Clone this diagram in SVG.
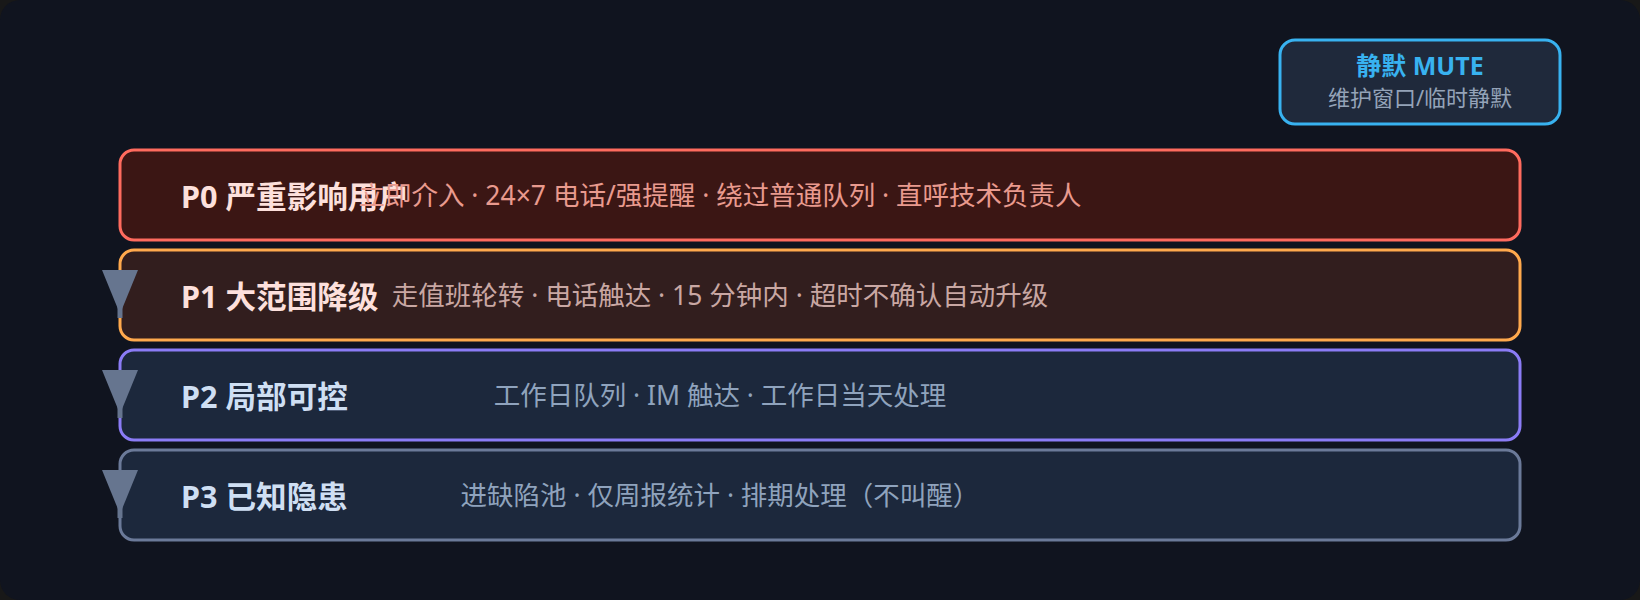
<svg xmlns="http://www.w3.org/2000/svg" width="1640" height="600" viewBox="0 0 1640 600">
<style>
.t{font-family:"Noto Sans","Noto Sans CJK SC",sans-serif;font-weight:700;font-size:30.6px}
.s{font-family:"Noto Sans","Noto Sans CJK SC",sans-serif;font-weight:400;font-size:26.5px;text-anchor:middle}
.box{stroke-width:3}
.arr{fill:#66758f}
.stub{stroke:#66758f;stroke-width:5}
</style>
<rect x="0" y="0" width="1640" height="600" fill="#181818"/>
<rect x="0" y="0" width="1640" height="600" rx="20" fill="#10141f"/>
<g id="mute">
<rect x="1280" y="40" width="280" height="84" rx="15" fill="#1f293b" stroke="#38b2f0" stroke-width="3"/>
<text x="1420" y="75" font-family="'Noto Sans','Noto Sans CJK SC',sans-serif" font-weight="700" font-size="25" fill="#38b2f0" text-anchor="middle">静默 MUTE</text>
<text x="1420" y="106" font-family="'Noto Sans','Noto Sans CJK SC',sans-serif" font-size="22" fill="#94a3b8" text-anchor="middle">维护窗口/临时静默</text>
</g>
<g id="p0">
<rect class="box" x="120" y="150" width="1400" height="90" rx="14" fill="#3b1614" stroke="#ff6b5e"/>
<text class="t" x="181" y="208" fill="#fde0dc">P0 严重影响用户</text>
<text class="s" x="720" y="205" fill="#e99a8e">立即介入 · 24×7 电话/强提醒 · 绕过普通队列 · 直呼技术负责人</text>
</g>
<g id="p1">
<rect class="box" x="120" y="250" width="1400" height="90" rx="14" fill="#321e1e" stroke="#ffa94d"/>
<text class="t" x="181" y="308" fill="#fde0dc">P1 大范围降级</text>
<text class="s" x="720" y="305" fill="#c9a7a3">走值班轮转 · 电话触达 · 15 分钟内 · 超时不确认自动升级</text>
</g>
<g id="p2">
<rect class="box" x="120" y="350" width="1400" height="90" rx="14" fill="#1c283c" stroke="#8b7cf6"/>
<text class="t" x="181" y="408" fill="#cfdff3">P2 局部可控</text>
<text class="s" x="720" y="405" fill="#8fa3bd">工作日队列 · IM 触达 · 工作日当天处理</text>
</g>
<g id="p3">
<rect class="box" x="120" y="450" width="1400" height="90" rx="14" fill="#1c283c" stroke="#6b7a99"/>
<text class="t" x="181" y="508" fill="#cfdff3">P3 已知隐患</text>
<text class="s" x="720" y="505" fill="#8fa3bd">进缺陷池 · 仅周报统计 · 排期处理（不叫醒）</text>
</g>
<g id="connectors">
<line class="stub" x1="120" y1="290" x2="120" y2="318"/>
<polygon class="arr" points="102,270 138,270 120,314"/>
<line class="stub" x1="120" y1="390" x2="120" y2="418"/>
<polygon class="arr" points="102,370 138,370 120,414"/>
<line class="stub" x1="120" y1="490" x2="120" y2="518"/>
<polygon class="arr" points="102,470 138,470 120,514"/>
</g>
</svg>
